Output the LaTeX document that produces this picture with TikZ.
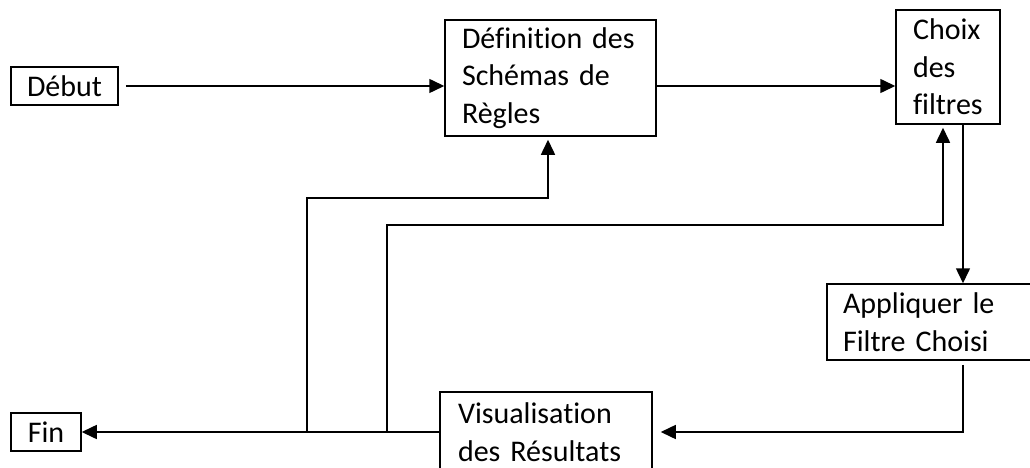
\documentclass[tikz,border=0pt]{standalone}
\usepackage{fontspec}
\setmainfont{Carlito}[Ligatures=NoCommon]
\usepackage{tikz}
\usetikzlibrary{arrows.meta}
\usetikzlibrary{positioning}

\tikzset{
	etape/.style={draw, line width=1.5pt, inner sep=0pt, align=center, font=\fontsize{30}{37.5}\selectfont},
	bloc/.style={etape, inner xsep=17pt, text width=#1, align=left},
}

\begin{document}
\begin{tikzpicture}[x=1pt, y=-1pt, line width=1.5pt, >={Triangle[length=15pt,width=14pt]}]
	\useasboundingbox (0,0) rectangle (1030,468);
	
	% les etapes
	\node[etape, minimum width=107pt, minimum height=38pt] (debut) at (64.5,86) {Début};
	\node[bloc=177pt, minimum height=116pt] (defn) at (550.5,78) {Définition des\\ Schémas de\\ Règles};
	\node[bloc=70pt, minimum height=114pt] (choix) at (948,67) {Choix\\ des\\ filtres};
	\node[bloc=174pt, inner xsep=16pt, minimum height=76pt] (appl) at (930,322) {Appliquer le\\ Filtre Choisi};
	\node[bloc=176pt, inner xsep=18pt, minimum height=80pt] (visu) at (546,432) {Visualisation\\ des Résultats};
	\node[etape, minimum width=70pt, minimum height=38pt] (fin) at (46,432) {Fin};
	
	% les fleches
	\draw[->, shorten <=7pt] (debut.east) -- (debut.east -| defn.west);
	\draw[->] (defn.east |- debut.east) -- (choix.west |- debut.east);
	\draw[->] (choix.south -| 963,0) -- (appl.north -| 963,0);
	\draw[->, shorten <=4pt, shorten >=8pt] (appl.south -| 963,0) |- (visu.east);
	\draw[->] (visu.west) -- (fin.east |- visu.west);
	
	% les retours
	\draw[->, shorten >=3pt] (visu.west -| 307,0) |- (548,198) -- (548,198 |- defn.south);
	\draw[->, shorten >=3pt] (visu.west -| 387,0) |- (943,225) -- (943,225 |- choix.south);
\end{tikzpicture}
\end{document}
